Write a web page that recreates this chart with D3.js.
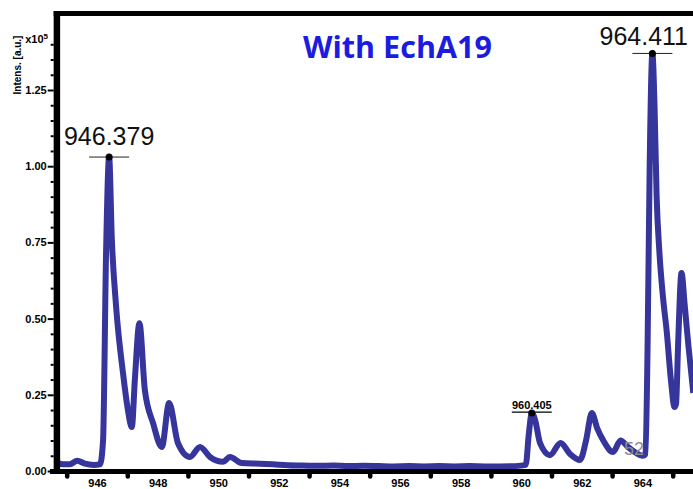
<!DOCTYPE html>
<html>
<head>
<meta charset="utf-8">
<script src="https://cdn.jsdelivr.net/npm/d3@7"></script>
<style>
  body { margin: 0; background: #fff; }
  svg { display: block; font-family: "Liberation Sans", Arial, sans-serif; }
</style>
</head>
<body>
<svg width="693" height="489"></svg>
<script>
// spectrum trace, m/z vs intensity (x10^5)
const mz = [944.67, 944.9, 945.1, 945.35, 945.6, 945.9, 946.1, 946.2, 946.3, 946.4,
  946.49, 946.63, 946.86, 947.02, 947.15, 947.25, 947.4, 947.58, 947.85, 948.14,
  948.38, 948.67, 949.07, 949.4, 949.73, 950.16, 950.39, 950.78, 951.38, 951.8,
  952.3, 952.8, 953.3, 953.8, 954.3, 954.8, 955.3, 955.8, 956.3, 956.8, 957.3,
  957.8, 958.3, 958.8, 959.3, 959.8, 960.15, 960.25, 960.35, 960.46, 960.62,
  960.95, 961.3, 961.61, 961.94, 962.14, 962.33, 962.51, 962.71, 963.03, 963.28,
  963.52, 963.75, 964.01, 964.1, 964.17, 964.24, 964.33, 964.4, 964.47, 964.56,
  964.68, 964.8, 964.94, 965.06, 965.11, 965.18, 965.29, 965.4, 965.52, 965.68];
const intens = [0.028, 0.022, 0.022, 0.034, 0.024, 0.02, 0.022, 0.10, 0.72, 1.03,
  0.76, 0.54, 0.32, 0.20, 0.144, 0.30, 0.485, 0.265, 0.157, 0.079,
  0.223, 0.092, 0.046, 0.079, 0.046, 0.03, 0.046, 0.026, 0.024, 0.022,
  0.019, 0.018, 0.017, 0.018, 0.016, 0.017, 0.016, 0.015, 0.016, 0.015, 0.016,
  0.015, 0.016, 0.015, 0.015, 0.016, 0.02, 0.12, 0.19, 0.167, 0.092,
  0.052, 0.092, 0.056, 0.036, 0.10, 0.19, 0.14, 0.10, 0.062, 0.10,
  0.079, 0.062, 0.05, 0.055, 0.40, 1.0, 1.37, 1.20, 0.90, 0.72,
  0.57, 0.46, 0.30, 0.21, 0.22, 0.42, 0.65, 0.54, 0.41, 0.256];

const peakText = ["946.379", "964.411", "960.405"];
const peakMz = [946.40, 964.33, 960.35];
const peakInt = [1.03, 1.37, 0.19];
const peakBig = [true, true, false];

const noteText = "52";
const noteMz = 963.72;
const noteInt = 0.052;

const xLabels = d3.range(946, 965, 2);
const xMinor = d3.range(945, 966, 2);
const yLabels = [0, 0.25, 0.5, 0.75, 1.0, 1.25];
const yMinor = d3.range(1, 29).map(k => +(k * 0.05).toFixed(2)).filter(v => !yLabels.includes(v));

const title = "With EchA19";

const W = 693, H = 489;
const pLeft = 53.7, pRight = 693, pTop = 13.5, pBottom = 471.5;

const svg = d3.select("svg");

const x = d3.scaleLinear().domain([944.67, 965.67]).range([56.7, 693]);
const y = d3.scaleLinear().domain([0, 1.5]).range([471, 13.8]);

svg.append("clipPath").attr("id", "plot")
  .append("rect").attr("x", 56.7).attr("y", pTop).attr("width", pRight - 56.7).attr("height", pBottom - pTop);

// trace
const line = d3.line().x(d => x(d[0])).y(d => y(d[1])).curve(d3.curveMonotoneX);
svg.append("path")
  .datum(mz.map((m, i) => [m, intens[i]]))
  .attr("clip-path", "url(#plot)")
  .attr("fill", "none")
  .attr("stroke", "#35359b")
  .attr("stroke-width", 6)
  .attr("stroke-linejoin", "round")
  .attr("d", line);

// peak annotations
peakText.forEach((t, i) => {
  const px = x(peakMz[i]), py = y(peakInt[i]);
  const g = svg.append("g");
  if (peakBig[i]) {
    g.append("line").attr("x1", px - 20).attr("x2", px + 20).attr("y1", py).attr("y2", py)
      .attr("stroke", "#222").attr("stroke-width", 1);
    const txt = g.append("text").attr("x", px).attr("y", Math.max(py - 12, 45))
      .attr("text-anchor", "middle").attr("font-size", 25).attr("fill", "#111").text(t);
    const w = txt.node().getComputedTextLength();
    if (px + w / 2 > 688) txt.attr("x", 688 - w / 2);
  } else {
    g.append("line").attr("x1", px - 20).attr("x2", px + 20).attr("y1", py - 1).attr("y2", py - 1)
      .attr("stroke", "#000").attr("stroke-width", 1.2);
    g.append("text").attr("x", px).attr("y", py - 4)
      .attr("text-anchor", "middle").attr("font-size", 11).attr("font-weight", "bold")
      .attr("fill", "#000").text(t);
  }
  g.append("circle").attr("cx", px).attr("cy", py).attr("r", 3.5).attr("fill", "#000");
});

svg.append("text").attr("x", x(noteMz)).attr("y", y(noteInt))
  .attr("text-anchor", "middle").attr("font-size", 18).attr("fill", "#8c8c8c").text(noteText);

// axes
const yMaj = svg.append("g").attr("transform", `translate(${pLeft},0)`)
  .call(d3.axisLeft(y).tickValues(yLabels).tickSize(6).tickPadding(1).tickFormat(d3.format(".2f")));
const yMin = svg.append("g").attr("transform", `translate(${pLeft},0)`)
  .call(d3.axisLeft(y).tickValues(yMinor).tickSize(3).tickFormat(""));
[yMaj, yMin].forEach(g => {
  g.select(".domain").remove();
  g.selectAll(".tick line").attr("stroke", "#000").attr("stroke-width", 2);
});
yMaj.selectAll(".tick text").attr("font-size", 11).attr("font-weight", "bold")
  .attr("fill", "#000").attr("font-family", "Liberation Sans, Arial, sans-serif");

const xMaj = svg.append("g").attr("transform", `translate(0,${pBottom})`)
  .call(d3.axisBottom(x).tickValues(xLabels).tickSize(0).tickPadding(8).tickFormat(d3.format("d")));
const xMin = svg.append("g").attr("transform", `translate(0,${pBottom + 2})`)
  .call(d3.axisBottom(x).tickValues(xMinor).tickSize(3).tickFormat(""));
[xMaj, xMin].forEach(g => g.select(".domain").remove());
xMaj.selectAll(".tick text").attr("font-size", 11).attr("font-weight", "bold")
  .attr("fill", "#000").attr("font-family", "Liberation Sans, Arial, sans-serif");
xMin.selectAll(".tick line").attr("stroke", "#000").attr("stroke-width", 4.5).attr("stroke-linecap", "round");

// frame
svg.append("line").attr("x1", 50).attr("x2", W).attr("y1", pBottom).attr("y2", pBottom)
  .attr("stroke", "#000").attr("stroke-width", 5);
svg.append("line").attr("x1", 56.9).attr("x2", 56.9).attr("y1", 11).attr("y2", 474)
  .attr("stroke", "#000").attr("stroke-width", 6.5);
svg.append("line").attr("x1", pLeft).attr("x2", W).attr("y1", pTop).attr("y2", pTop)
  .attr("stroke", "#000").attr("stroke-width", 5);

// axis title and exponent
svg.append("text").attr("transform", "translate(21,65) rotate(-90)")
  .attr("text-anchor", "middle").attr("font-size", 10).attr("font-weight", "bold").text("Intens. [a.u.]");
const ex = svg.append("text").attr("x", 48).attr("y", 43).attr("text-anchor", "end")
  .attr("font-size", 11).attr("font-weight", "bold");
ex.append("tspan").text("x10");
ex.append("tspan").attr("font-size", 8).attr("dy", -4).text("5");

// title
const tt = svg.append("text").attr("x", 397.5).attr("y", 58).attr("text-anchor", "middle")
  .attr("font-family", "'Open Sans', 'Noto Sans', sans-serif").attr("font-weight", "bold")
  .attr("font-size", 29).attr("fill", "#1c1ce0").text(title);
const tw = tt.node().getComputedTextLength();
tt.attr("font-size", 29 * 189 / tw);
</script>
</body>
</html>
